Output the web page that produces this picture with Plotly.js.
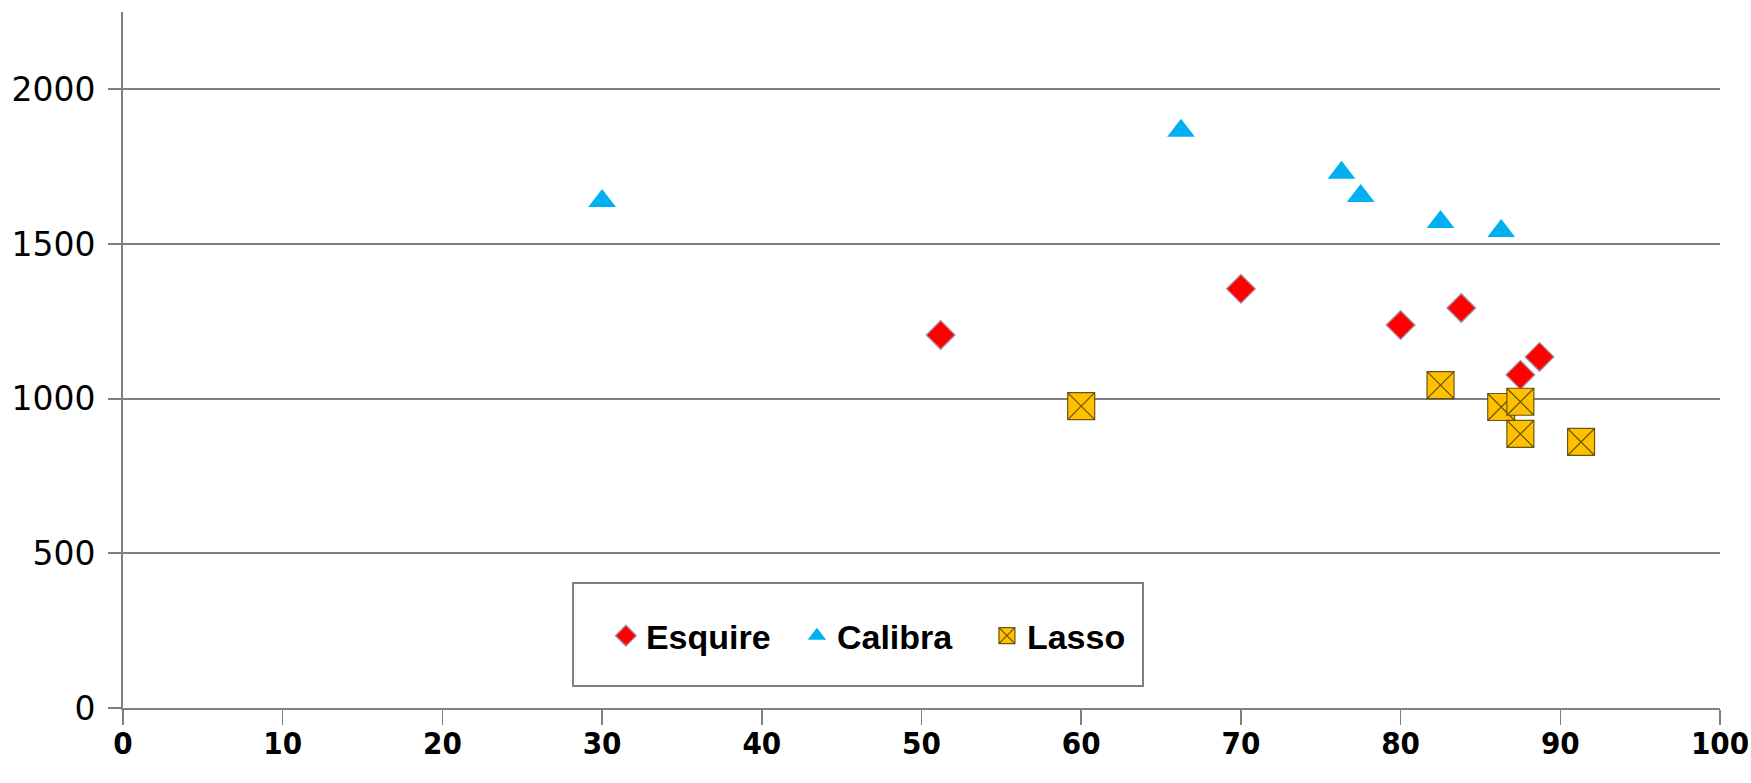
<!DOCTYPE html>
<html>
<head>
<meta charset="utf-8">
<script src="https://cdn.plot.ly/plotly-3.0.1.min.js"></script>
<style>html,body{margin:0;padding:0;background:#fff;}#chart{width:1751px;height:783px;}</style>
</head>
<body>
<div id="chart"></div>
<script>
// Data
const seriesNames = ["Esquire", "Calibra", "Lasso"];
const esquireX = [51.2, 70.0, 80.0, 83.8, 87.5, 88.7];
const esquireY = [1206, 1355, 1238, 1293, 1077, 1135];
const calibraX = [30.0, 66.25, 76.3, 77.5, 82.5, 86.3];
const calibraY = [1639, 1866, 1730, 1655, 1571, 1542];
const lassoX = [60.0, 82.5, 86.3, 87.5, 87.5, 91.3];
const lassoY = [976, 1044, 973, 990, 886, 860];
const xTicks = [0, 10, 20, 30, 40, 50, 60, 70, 80, 90, 100];
const yTicks = [0, 500, 1000, 1500, 2000];

const traces = [
  {
    x: esquireX, y: esquireY, name: seriesNames[0], type: "scatter", mode: "markers",
    marker: {symbol: "diamond", size: 22, color: "#FF0000", line: {color: "#A58C9C", width: 1.3}},
    legendwidth: 146
  },
  {
    x: calibraX, y: calibraY, name: seriesNames[1], type: "scatter", mode: "markers",
    marker: {symbol: "triangle-up", size: 24, color: "#00B0F0", line: {width: 0}},
    legendwidth: 145
  },
  {
    x: lassoX, y: lassoY, name: seriesNames[2], type: "scatter", mode: "markers",
    marker: {symbol: "square-x", size: 27, color: "#FFC000", line: {color: "rgba(80,62,0,0.85)", width: 1.2}},
    legendwidth: 100
  }
];

const layout = {
  width: 1751, height: 783,
  margin: {l: 123, r: 31, t: 12, b: 75},
  paper_bgcolor: "#ffffff", plot_bgcolor: "#ffffff",
  showlegend: true,
  legend: {
    orientation: "h", x: 0.3024, xanchor: "left", y: 0.1034, yanchor: "middle",
    bgcolor: "rgba(0,0,0,0)", borderwidth: 0,
    font: {family: "Liberation Sans, Arial, sans-serif", size: 34, color: "#000", weight: "bold"}
  },
  xaxis: {
    range: [0, 100], tickvals: xTicks, ticktext: xTicks.map(String),
    showgrid: false, zeroline: false,
    showline: true, linecolor: "#808080", linewidth: 2,
    ticks: "outside", ticklen: 15, tickwidth: 1.5, tickcolor: "#808080",
    tickfont: {family: "DejaVu Sans Condensed, sans-serif", size: 31, color: "#000", weight: "bold"},
    ticklabelstandoff: -8, ticklabeloverflow: "allow"
  },
  yaxis: {
    range: [0, 2250], tickvals: yTicks, ticktext: yTicks.map(String),
    showgrid: true, gridcolor: "#808080", gridwidth: 2,
    zeroline: false,
    showline: true, linecolor: "#808080", linewidth: 2,
    ticks: "outside", ticklen: 13, tickwidth: 2, tickcolor: "#808080",
    tickfont: {family: "DejaVu Sans, Verdana, sans-serif", size: 33, color: "#000"},
    ticklabelstandoff: 6
  },
  shapes: [{
    type: "rect", xref: "paper", yref: "paper",
    x0: 0.2818, x1: 0.6387, y0: 0.0316, y1: 0.1796,
    line: {color: "#808080", width: 2}, fillcolor: "#ffffff", layer: "above"
  }]
};

Plotly.newPlot("chart", traces, layout, {displayModeBar: false, staticPlot: true});
</script>
</body>
</html>
